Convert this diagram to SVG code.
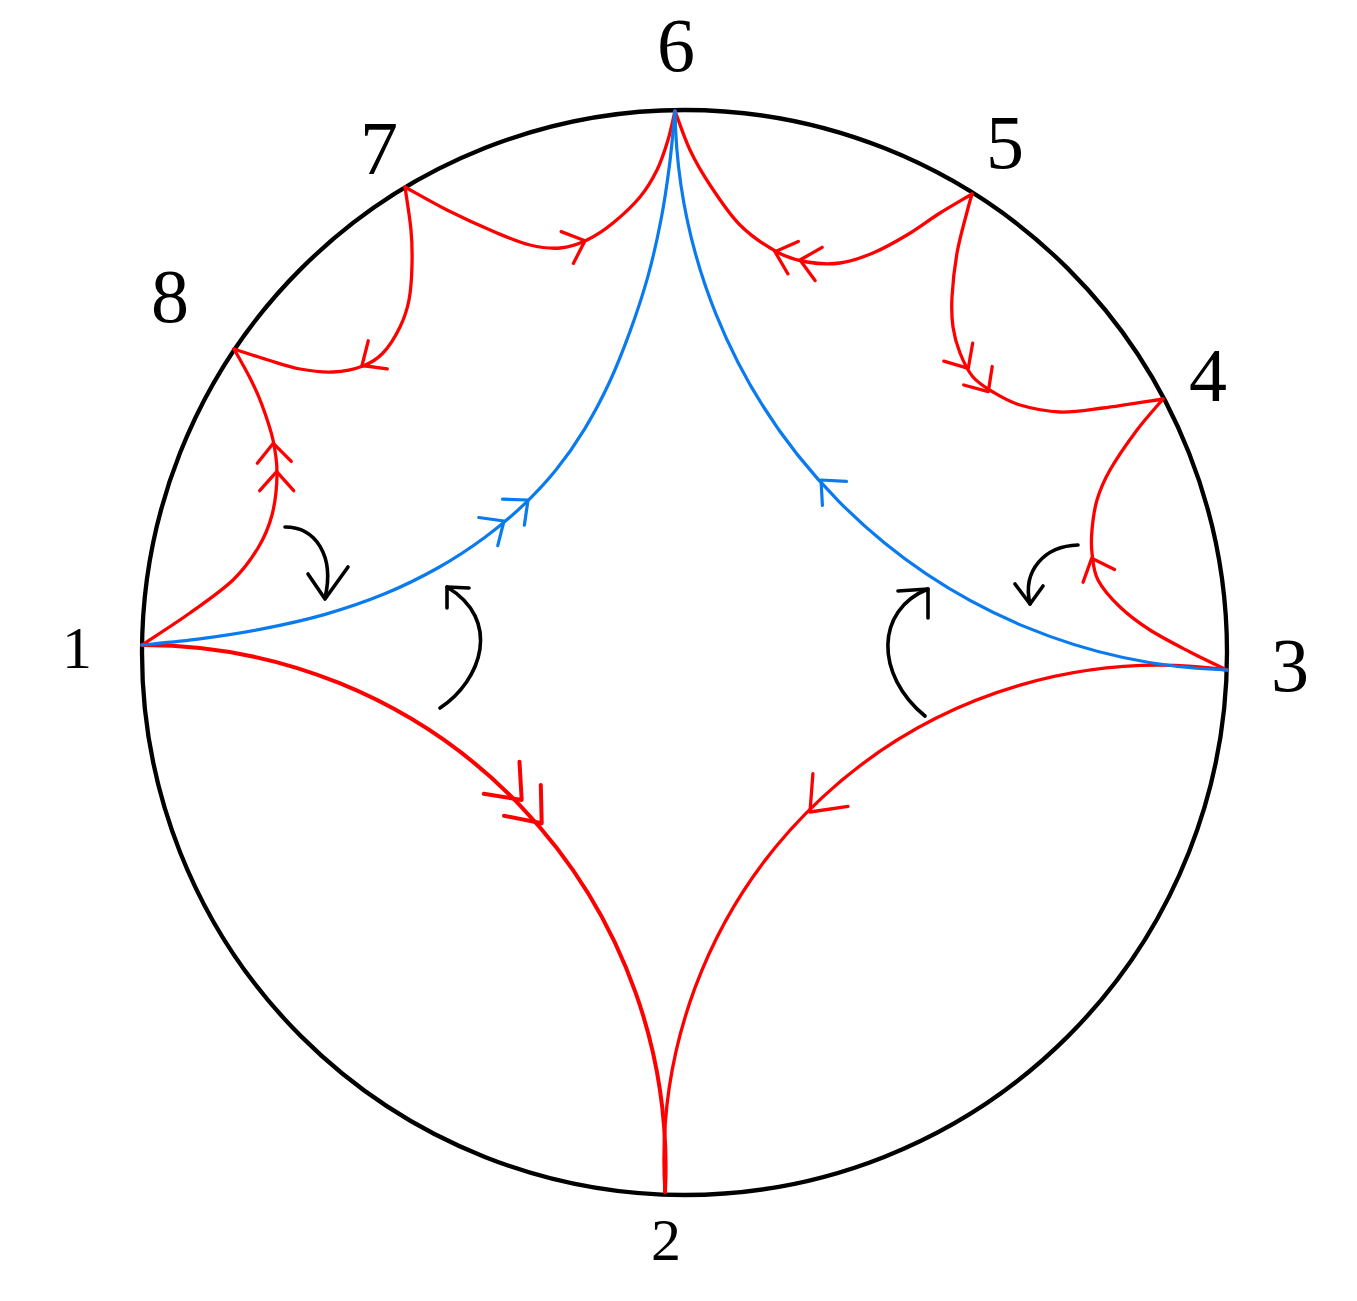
<svg xmlns="http://www.w3.org/2000/svg" xmlns:xlink="http://www.w3.org/1999/xlink" width="1357" height="1301" viewBox="0 0 1357 1301">
<style>
.bg{fill:#fff}
.disk{fill:none;stroke:#000;stroke-width:4.3}
.r{fill:none;stroke:#f00;stroke-width:3.3;stroke-linecap:round;stroke-linejoin:round}
.rt{stroke-width:4}
.b{fill:none;stroke:#0a7aef;stroke-width:3.2;stroke-linecap:round;stroke-linejoin:round}
.k{fill:none;stroke:#000;stroke-width:3.6;stroke-linecap:round;stroke-linejoin:round}
.lbl{font-family:"Liberation Serif","DejaVu Serif",serif;font-size:76px;fill:#000;text-anchor:middle}
.sm{font-size:60px}
</style>
<defs>
<path id="ah" d="M-19,-17 L0,0 L-19,17"/>
<path id="ahL" d="M-30,-24 L0,0 L-30,24"/>
</defs>
<rect class="bg" x="0" y="0" width="1357" height="1301"/>
<g id="boundary"><circle class="disk" cx="684.5" cy="652.5" r="542.5"/></g>

<g id="connectors">
<path id="e-1-8" class="r" d="M142,645 C150,639.5 174.8,623.8 190,613 C205.2,602.2 221.7,590.8 233,580 C244.3,569.2 251.5,558.8 258,548 C264.5,537.2 268.8,527.2 272,515 C275.2,502.8 276.8,487.5 277,475 C277.2,462.5 275.5,451.7 273,440 C270.5,428.3 265.8,415.3 262,405 C258.2,394.7 254.7,387.3 250,378 C245.3,368.7 236.7,353.8 234,349"/>
<path id="e-8-7" class="r" d="M234,349 C239.7,350.8 257,356.7 268,360 C279,363.3 289.2,367 300,369 C310.8,371 322.5,372.5 333,372 C343.5,371.5 354.7,369.2 363,366 C371.3,362.8 376.8,359.5 383,353 C389.2,346.5 395.7,335.8 400,327 C404.3,318.2 407,310.3 409,300 C411,289.7 411.7,276.7 412,265 C412.3,253.3 412.2,243 411,230 C409.8,217 406,194.2 405,187"/>
<path id="e-7-6" class="r" d="M405,187 C412,190.8 431.7,202.3 447,210 C462.3,217.7 483.2,227.2 497,233 C510.8,238.8 519.5,242.5 530,245 C540.5,247.5 550.5,248.8 560,248 C569.5,247.2 578.2,244.2 587,240 C595.8,235.8 604.2,230.2 613,223 C621.8,215.8 632.7,205.8 640,197 C647.3,188.2 652.3,179.5 657,170 C661.7,160.5 665,149.8 668,140 C671,130.2 673.8,115.8 675,111"/>
<path id="e-6-5" class="r" d="M675,111 C677.5,117.5 684.2,137.7 690,150 C695.8,162.3 701.7,172.5 710,185 C718.3,197.5 728.8,213.8 740,225 C751.2,236.2 765.8,245.8 777,252 C788.2,258.2 796.5,260.2 807,262 C817.5,263.8 829,264.5 840,263 C851,261.5 861.8,257.7 873,253 C884.2,248.3 895.8,241.7 907,235 C918.2,228.3 929.2,219.8 940,213 C950.8,206.2 966.7,197.2 972,194"/>
<path id="e-5-4" class="r" d="M972,194 C971.2,197 969.5,202.2 967,212 C964.5,221.8 959.5,238.8 957,253 C954.5,267.2 952.7,284.7 952,297 C951.3,309.3 951.7,317.7 953,327 C954.3,336.3 956.7,344.7 960,353 C963.3,361.3 967.5,370.5 973,377 C978.5,383.5 985.2,387.3 993,392 C1000.8,396.7 1008.8,401.7 1020,405 C1031.2,408.3 1046.2,411.5 1060,412 C1073.8,412.5 1085.8,410.2 1103,408 C1120.2,405.8 1153,400.5 1163,399"/>
<path id="e-3-4" class="r" d="M1227,670 C1220.8,667 1202.8,658.7 1190,652 C1177.2,645.3 1161.7,637.5 1150,630 C1138.3,622.5 1128.7,615.3 1120,607 C1111.3,598.7 1102.7,589 1098,580 C1093.3,571 1093,561.3 1092,553 C1091,544.7 1091.2,538.8 1092,530 C1092.8,521.2 1094,510 1097,500 C1100,490 1103.3,481.7 1110,470 C1116.7,458.3 1128.2,441.8 1137,430 C1145.8,418.2 1158.7,404.2 1163,399"/>
<path id="e-1-2" class="r rt" d="M142,645 A522,522 0 0 1 665,1192"/>
<path id="e-3-2" class="r" d="M1227,670 A495,495 0 0 0 665,1192"/>
<path id="e-1-6" class="b" d="M142,645 C151.6,644 180.05,641.5 199.7,638.9 C219.35,636.3 239.15,633.45 259.9,629.4 C280.65,625.35 303.4,620.5 324.2,614.6 C345,608.7 365.6,601.65 384.7,593.8 C403.8,585.95 421.9,576.9 438.6,567.5 C455.3,558.1 470.6,547.85 484.7,537.5 C498.8,527.15 511.2,516.6 523,505.4 C534.8,494.2 545.5,483 555.7,470.3 C565.9,457.6 575.5,443.9 584.4,429.3 C593.3,414.7 601.65,398.95 609.3,382.5 C616.95,366.05 623.85,348.3 630.3,330.6 C636.75,312.9 642.9,294.5 648,276.1 C653.1,257.7 657.3,238.7 660.9,220.3 C664.5,201.9 667.05,184 669.4,165.8 C671.75,147.6 674.1,120.1 675,111"/>
<path id="e-3-6" class="b" d="M1227,670 A568,568 0 0 1 675,111"/>

<g id="arrowheads">
<use href="#ah" xlink:href="#ah" class="r" transform="translate(273.3,443.3) rotate(-93)"/>
<use href="#ah" xlink:href="#ah" class="r" transform="translate(276.7,471.7) rotate(-90)"/>
<use href="#ah" xlink:href="#ah" class="r" transform="translate(362,365.5) rotate(146)"/>
<use href="#ah" xlink:href="#ah" class="r" transform="translate(585,240.7) rotate(-21)"/>
<use href="#ah" xlink:href="#ah" class="r" transform="translate(775,251.7) rotate(198)"/>
<use href="#ah" xlink:href="#ah" class="r" transform="translate(800,260) rotate(192)"/>
<use href="#ah" xlink:href="#ah" class="r" transform="translate(968.3,368.3) rotate(58)"/>
<use href="#ah" xlink:href="#ah" class="r" transform="translate(988.3,391.7) rotate(57)"/>
<use href="#ah" xlink:href="#ah" class="r" transform="translate(1091.7,558.3) rotate(-112)"/>
<use href="#ahL" xlink:href="#ahL" class="r rt" transform="translate(521.7,800) rotate(48)"/>
<use href="#ahL" xlink:href="#ahL" class="r rt" transform="translate(541.7,823.3) rotate(50)"/>
<use href="#ahL" xlink:href="#ahL" class="r" transform="translate(810,812) rotate(133)"/>
<use href="#ah" xlink:href="#ah" class="b" transform="translate(504,521) rotate(-34)"/>
<use href="#ah" xlink:href="#ah" class="b" transform="translate(528,500) rotate(-40)"/>
<use href="#ah" xlink:href="#ah" class="b" transform="translate(821,480) rotate(225)"/>
</g>

<g id="rotation-arrows">
<path class="k" d="M285,527 C315,527 335,555 325,598"/>
<path class="k" d="M308,574 L325,599 L348,567"/>
<path class="k" d="M440,708 C482,680 502,620 447,587"/>
<path class="k" d="M447,608 L447,587 L469,588"/>
<path class="k" d="M1078,545 C1045,546 1022,570 1030,604"/>
<path class="k" d="M1015,584 L1030,604 L1043,586"/>
<path class="k" d="M925,716 C875,675 875,610 928,589"/>
<path class="k" d="M898,591 L928,589 L928,618"/>
</g>
</g>

<g id="node-1"><text class="lbl sm" x="77" y="668">1</text></g>
<g id="node-2"><text class="lbl sm" x="666" y="1260">2</text></g>
<g id="node-3"><text class="lbl" x="1290" y="691">3</text></g>
<g id="node-4"><text class="lbl" x="1208" y="401">4</text></g>
<g id="node-5"><text class="lbl" x="1005" y="168">5</text></g>
<g id="node-6"><text class="lbl" x="676" y="71">6</text></g>
<g id="node-7"><text class="lbl" x="379" y="174">7</text></g>
<g id="node-8"><text class="lbl" x="170" y="322">8</text></g>
</svg>
